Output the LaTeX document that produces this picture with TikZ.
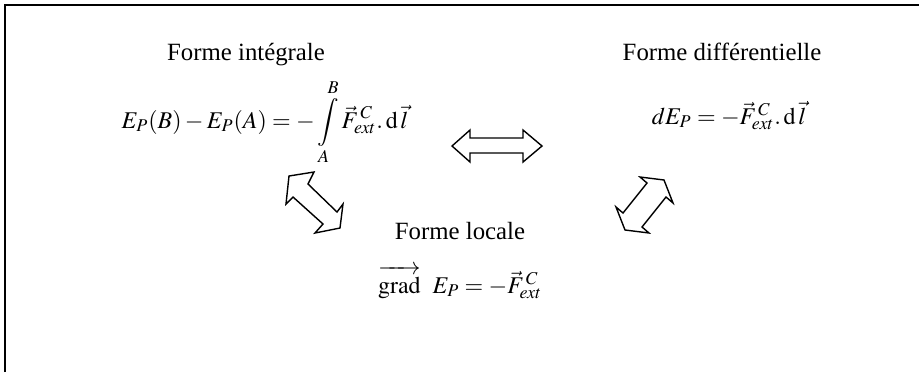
\documentclass[tikz,border=0pt]{standalone}
\usepackage{mathptmx}
\usepackage{fontspec}
\setmainfont{Liberation Serif}
\usetikzlibrary{positioning}

\begin{document}
\begin{tikzpicture}[
        x=0.5pt, y=-0.5pt,
        titre/.style={font=\fontsize{12.4}{15}\selectfont, inner sep=0pt, anchor=base},
        eq/.style={font=\fontsize{12}{15}\selectfont, inner sep=0pt, anchor=base},
        fleche/.style={draw, line width=0.7pt, line join=miter, fill=white}
    ]
        \useasboundingbox (0,0) rectangle (919,372);
        \draw[line width=0.75pt] (5,372) -- (5,5) -- (919,5);

        \node[titre] (integ) at (246,60) {Forme intégrale};
        \node[titre] (diff) at (722,60) {Forme différentielle};
        \node[titre] (loc) at (460,239) {Forme locale};

        \node[eq] (eqinteg) at (265,128) {$E_P(B)-E_P(A)=-\displaystyle\int\limits_A^B\vec{F}^{\,C}_{ext}.\,\mathrm{d}\,\vec{l}$};
        \node[eq] (eqdiff) at (729,124) {$dE_P=-\vec{F}^{\,C}_{ext}.\,\mathrm{d}\,\vec{l}$};
        \node[eq] (eqloc) at (460,293) {$\overrightarrow{\rule{0pt}{0.85em}\mathrm{grad}}\ \ E_P=-\vec{F}^{\,C}_{ext}$};

        % doubles fleches
        \draw[fleche] (452,146) -- (470,130) -- (470,138) -- (523,138) -- (523,130)
            -- (542,146) -- (523,162) -- (523,153) -- (470,153) -- (470,162) -- cycle;
        \draw[fleche] (323,224) -- (315,233) -- (340,228) -- (343,204) -- (337,212)
            -- (308,184) -- (314,172) -- (289,176) -- (286,204) -- (293,197) -- cycle;
        \draw[fleche] (623,213) -- (616,207) -- (625,230) -- (649,233) -- (642,227)
            -- (666,197) -- (673,203) -- (664,180) -- (640,177) -- (647,183) -- cycle;
    \end{tikzpicture}
\end{document}
